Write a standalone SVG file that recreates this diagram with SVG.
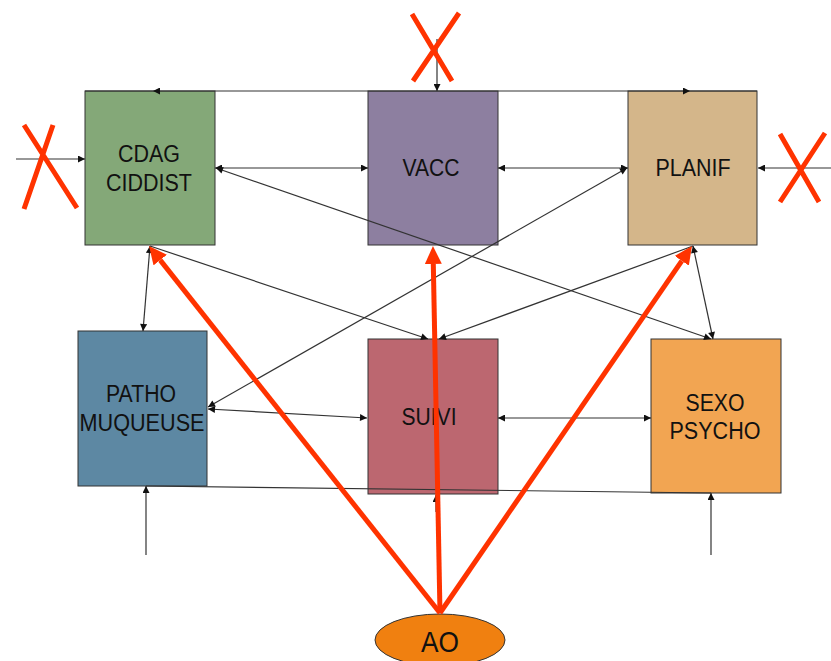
<svg xmlns="http://www.w3.org/2000/svg" width="831" height="661" viewBox="0 0 831 661">
<defs>
<style>
.box{stroke:#333;stroke-width:1}
.t{font-family:"Liberation Sans",Arial,sans-serif;font-size:23px;fill:#111;text-anchor:middle}
.c{fill:none;stroke:#333;stroke-width:1.2}
.r{fill:none;stroke:#ff3300;stroke-width:5}
.x{fill:none;stroke:#ff3300;stroke-width:5}
</style>
<marker id="a" viewBox="0 0 10 10" refX="10" refY="5" markerWidth="9" markerHeight="7" markerUnits="userSpaceOnUse" orient="auto-start-reverse">
<path d="M0,0 L10,5 L0,10 z" fill="#111"/>
</marker>
<marker id="ra" viewBox="0 0 18 17" refX="0" refY="8.5" markerWidth="18" markerHeight="17" markerUnits="userSpaceOnUse" orient="auto">
<path d="M0,0 L18,8.5 L0,17 z" fill="#ff3300"/>
</marker>
</defs>
<rect width="831" height="661" fill="#fff"/>
<g id="cdag">
<rect class="box" x="85" y="91" width="130" height="154" fill="#84a878"/>
<text class="t" x="149" y="162" textLength="62" lengthAdjust="spacingAndGlyphs">CDAG</text>
<text class="t" x="149" y="191" textLength="86" lengthAdjust="spacingAndGlyphs">CIDDIST</text>
</g>
<g id="vacc">
<rect class="box" x="368" y="91" width="130" height="154" fill="#8d7fa0"/>
<text class="t" x="431" y="176" textLength="57" lengthAdjust="spacingAndGlyphs">VACC</text>
</g>
<g id="planif">
<rect class="box" x="628" y="91" width="129" height="154" fill="#d4b68a"/>
<text class="t" x="693" y="176" textLength="75" lengthAdjust="spacingAndGlyphs">PLANIF</text>
</g>
<g id="patho">
<rect class="box" x="78" y="331" width="129" height="155" fill="#5d88a3"/>
<text class="t" x="141" y="402" textLength="70" lengthAdjust="spacingAndGlyphs">PATHO</text>
<text class="t" x="142" y="431" textLength="125" lengthAdjust="spacingAndGlyphs">MUQUEUSE</text>
</g>
<g id="suivi">
<rect class="box" x="368" y="339" width="130" height="155" fill="#bc6770"/>
<text class="t" x="429" y="425" textLength="55" lengthAdjust="spacingAndGlyphs">SUIVI</text>
</g>
<g id="sexo">
<rect class="box" x="651" y="339" width="130" height="154" fill="#f2a552"/>
<text class="t" x="715" y="411" textLength="59" lengthAdjust="spacingAndGlyphs">SEXO</text>
<text class="t" x="715" y="439" textLength="91" lengthAdjust="spacingAndGlyphs">PSYCHO</text>
</g>
<g id="ao">
<ellipse cx="440" cy="640" rx="65" ry="26" fill="#f08010" stroke="#333" stroke-width="1"/>
<text class="t" x="440" y="652" style="font-size:30px" textLength="38" lengthAdjust="spacingAndGlyphs">AO</text>
</g>
<g id="connectors">
<path class="c" d="M215,168 H368" marker-start="url(#a)" marker-end="url(#a)"/>
<path class="c" d="M498,168 H628" marker-start="url(#a)" marker-end="url(#a)"/>
<path class="c" d="M216,168 L711,339" marker-start="url(#a)" marker-end="url(#a)"/>
<path class="c" d="M627,168 L208,407" marker-start="url(#a)" marker-end="url(#a)"/>
<path class="c" d="M150,246 L143,331" marker-start="url(#a)" marker-end="url(#a)"/>
<path class="c" d="M150,246 L428,339" marker-end="url(#a)"/>
<path class="c" d="M693,246 L439,339" marker-end="url(#a)"/>
<path class="c" d="M693,246 L713,339" marker-start="url(#a)" marker-end="url(#a)"/>
<path class="c" d="M208,409 L367,418" marker-start="url(#a)" marker-end="url(#a)"/>
<path class="c" d="M498,418 H651" marker-start="url(#a)" marker-end="url(#a)"/>
<path class="c" d="M437,39 V91" marker-end="url(#a)"/>
<path class="c" d="M437,91 H153" marker-end="url(#a)"/>
<path class="c" d="M437,91 H690" marker-end="url(#a)"/>
<path class="c" d="M153,91 H85 M690,91 H757"/>
<path class="c" d="M16,159 H85" marker-end="url(#a)"/>
<path class="c" d="M831,168 H758" marker-end="url(#a)"/>
<path class="c" d="M146,555 V486" marker-end="url(#a)"/>
<path class="c" d="M711,555 V493" marker-end="url(#a)"/>
<path class="c" d="M146,486 L711,493"/>
<path class="c" d="M436,512 V495" marker-end="url(#a)"/>
<path class="r" d="M440,613 L160.2,260.1" marker-end="url(#ra)"/>
<path class="r" d="M440,613 L433.3,264" marker-end="url(#ra)"/>
<path class="r" d="M440,613 L681.8,260.8" marker-end="url(#ra)"/>
<path class="x" d="M24,125 L77,208 M53,125 L24,209"/>
<path class="x" d="M412,14 L452,81 M459,13 L413,81"/>
<path class="x" d="M780,134 L819,202 M825,133 L780,202"/>
</g>
</svg>
